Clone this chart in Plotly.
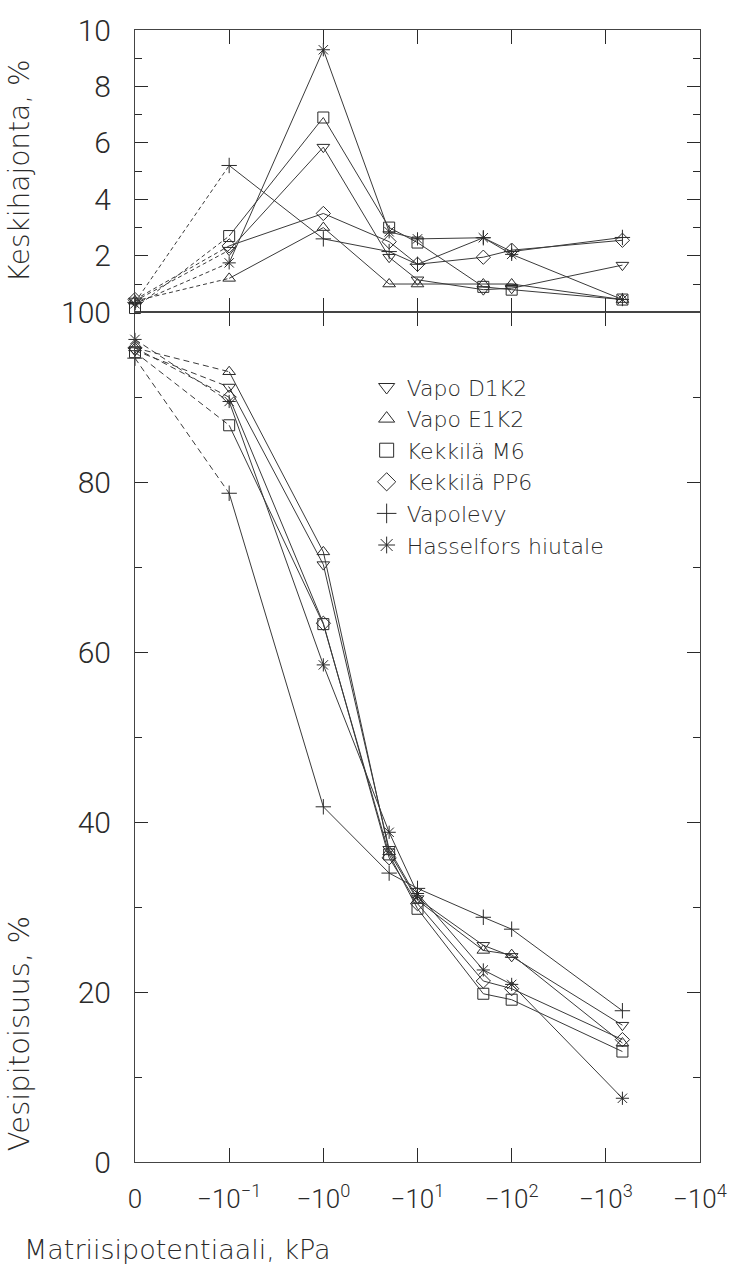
import math
import plotly.graph_objects as go

# ---- data ----
pressure_kpa = [0, 0.1, 1, 5, 10, 50, 100, 1500]
series_names = ["Vapo D1K2", "Vapo E1K2", "Kekkilä M6", "Kekkilä PP6", "Vapolevy", "Hasselfors hiutale"]
symbols = ["triangle-down-open", "triangle-up-open", "square-open", "diamond-open", "cross-thin-open", "asterisk-open"]

water_d1k2 = [95.5, 91.2, 70.3, 36.8, 31.0, 25.5, 24.2, 16.1]
water_e1k2 = [95.8, 93.0, 71.8, 36.5, 30.8, 24.9, 24.4, 14.0]
water_m6 = [95.3, 86.7, 63.3, 36.2, 29.8, 19.8, 19.1, 13.0]
water_pp6 = [95.8, 90.0, 63.4, 35.8, 30.4, 21.3, 20.4, 14.4]
water_vapolevy = [94.6, 78.7, 41.8, 34.0, 32.2, 28.8, 27.4, 17.8]
water_hasselfors = [96.8, 89.5, 58.5, 38.8, 31.6, 22.6, 20.9, 7.5]

sd_d1k2 = [0.4, 2.2, 5.85, 1.95, 1.15, 0.8, 0.85, 1.67]
sd_e1k2 = [0.4, 1.2, 3.0, 1.0, 1.0, 1.0, 1.0, 0.45]
sd_m6 = [0.15, 2.7, 6.9, 3.0, 2.47, 0.9, 0.8, 0.45]
sd_pp6 = [0.45, 2.35, 3.5, 2.5, 1.7, 1.95, 2.2, 2.55]
sd_vapolevy = [0.35, 5.2, 2.6, 2.15, 1.7, 2.64, 2.15, 2.65]
sd_hasselfors = [0.3, 1.75, 9.3, 2.85, 2.6, 2.64, 2.05, 0.45]

x_tick_labels = ["0", "−10<sup>−1</sup>", "−10<sup>0</sup>", "−10<sup>1</sup>",
                 "−10<sup>2</sup>", "−10<sup>3</sup>", "−10<sup>4</sup>"]

water_all = [water_d1k2, water_e1k2, water_m6, water_pp6, water_vapolevy, water_hasselfors]
sd_all = [sd_d1k2, sd_e1k2, sd_m6, sd_pp6, sd_vapolevy, sd_hasselfors]

# pseudo-log position: 0 -> 0, 10^k -> k+2
xpos = [0 if p == 0 else math.log10(p) + 2 for p in pressure_kpa]

FONT = "Roboto"
TFONT = "DejaVu Sans"
INK = "#2a2a2a"
LINE = "#3a3a3a"

fig = go.Figure()

def add_series(y, sym, xa, ya, dash):
    fig.add_trace(go.Scatter(x=xpos[:2], y=y[:2], mode="lines",
                             line=dict(color=LINE, width=1, dash=dash),
                             xaxis=xa, yaxis=ya, showlegend=False, cliponaxis=False))
    fig.add_trace(go.Scatter(x=xpos[1:], y=y[1:], mode="lines",
                             line=dict(color=LINE, width=1),
                             xaxis=xa, yaxis=ya, showlegend=False, cliponaxis=False))
    fig.add_trace(go.Scatter(x=xpos, y=y, mode="markers",
                             marker=dict(symbol=sym, size=11, color=INK, line=dict(width=1, color=INK)),
                             xaxis=xa, yaxis=ya, showlegend=False, cliponaxis=False))

for y, sym in zip(water_all, symbols):
    add_series(y, sym, "x", "y", "6px,4px")
for y, sym in zip(sd_all, symbols):
    add_series(y, sym, "x2", "y2", "4px,3px")

# legend entries
for name, sym in zip(series_names, symbols):
    fig.add_trace(go.Scatter(x=[None], y=[None], mode="markers", name=name,
                             marker=dict(symbol=sym, size=14, color=INK, line=dict(width=1, color=INK)),
                             xaxis="x", yaxis="y", showlegend=True))

split = (1162 - 307) / 1139

axis_common = dict(showline=True, linecolor="#444", linewidth=1, mirror="ticks",
                   ticks="inside", tickcolor=INK, tickwidth=1, showgrid=False, zeroline=False)

fig.update_layout(
    width=741, height=1268,
    margin=dict(l=135, r=41, t=23, b=106),
    paper_bgcolor="white", plot_bgcolor="white",
    font=dict(family=FONT, color=INK, weight=300),
    showlegend=True,
    legend=dict(x=0.41, y=0.703, xanchor="left", yanchor="top",
                font=dict(size=22, family=TFONT, color=INK, weight=200),
                bgcolor="rgba(0,0,0,0)", borderwidth=0, tracegroupgap=0,
                itemwidth=30),
    xaxis=dict(domain=[0, 1], range=[0, 6], tickvals=list(range(7)), ticktext=x_tick_labels,
               ticklen=14, tickfont=dict(size=26, family=FONT, weight=300), anchor="y",
               ticklabelstandoff=14, **axis_common),
    yaxis=dict(domain=[0, split], range=[0, 100], tickvals=[0, 20, 40, 60, 80, 100],
               ticklen=13, tickfont=dict(size=30, family=FONT, weight=300),
               minor=dict(dtick=10, ticklen=7, ticks="inside", tickcolor=INK),
               ticklabelstandoff=17, anchor="x", **axis_common),
    xaxis2=dict(domain=[0, 1], range=[0, 6], tickvals=list(range(7)), showticklabels=False,
                ticklen=14, anchor="y2", matches="x", **axis_common),
    yaxis2=dict(domain=[split, 1], range=[0, 10], tickvals=[2, 4, 6, 8, 10],
                ticklen=13, tickfont=dict(size=30, family=FONT, weight=300),
                minor=dict(dtick=1, ticklen=7, ticks="inside", tickcolor=INK),
                ticklabelstandoff=17, anchor="x2", **axis_common),
    annotations=[
        dict(text="Keskihajonta, %", xref="paper", yref="paper", x=-0.205, y=(1 + split) / 2,
             xanchor="center", yanchor="middle", textangle=-90, showarrow=False,
             font=dict(size=28, family=TFONT, color=INK, weight=200)),
        dict(text="Vesipitoisuus, %", xref="paper", yref="paper", x=-0.205, y=0.113,
             xanchor="center", yanchor="middle", textangle=-90, showarrow=False,
             font=dict(size=29, family=TFONT, color=INK, weight=200)),
        dict(text="Matriisipotentiaali, kPa", xref="paper", yref="paper", x=-0.2, y=-0.077,
             xanchor="left", yanchor="middle", showarrow=False,
             font=dict(size=27, family=TFONT, color=INK, weight=200)),
    ],
)

fig.write_html("out.html")
